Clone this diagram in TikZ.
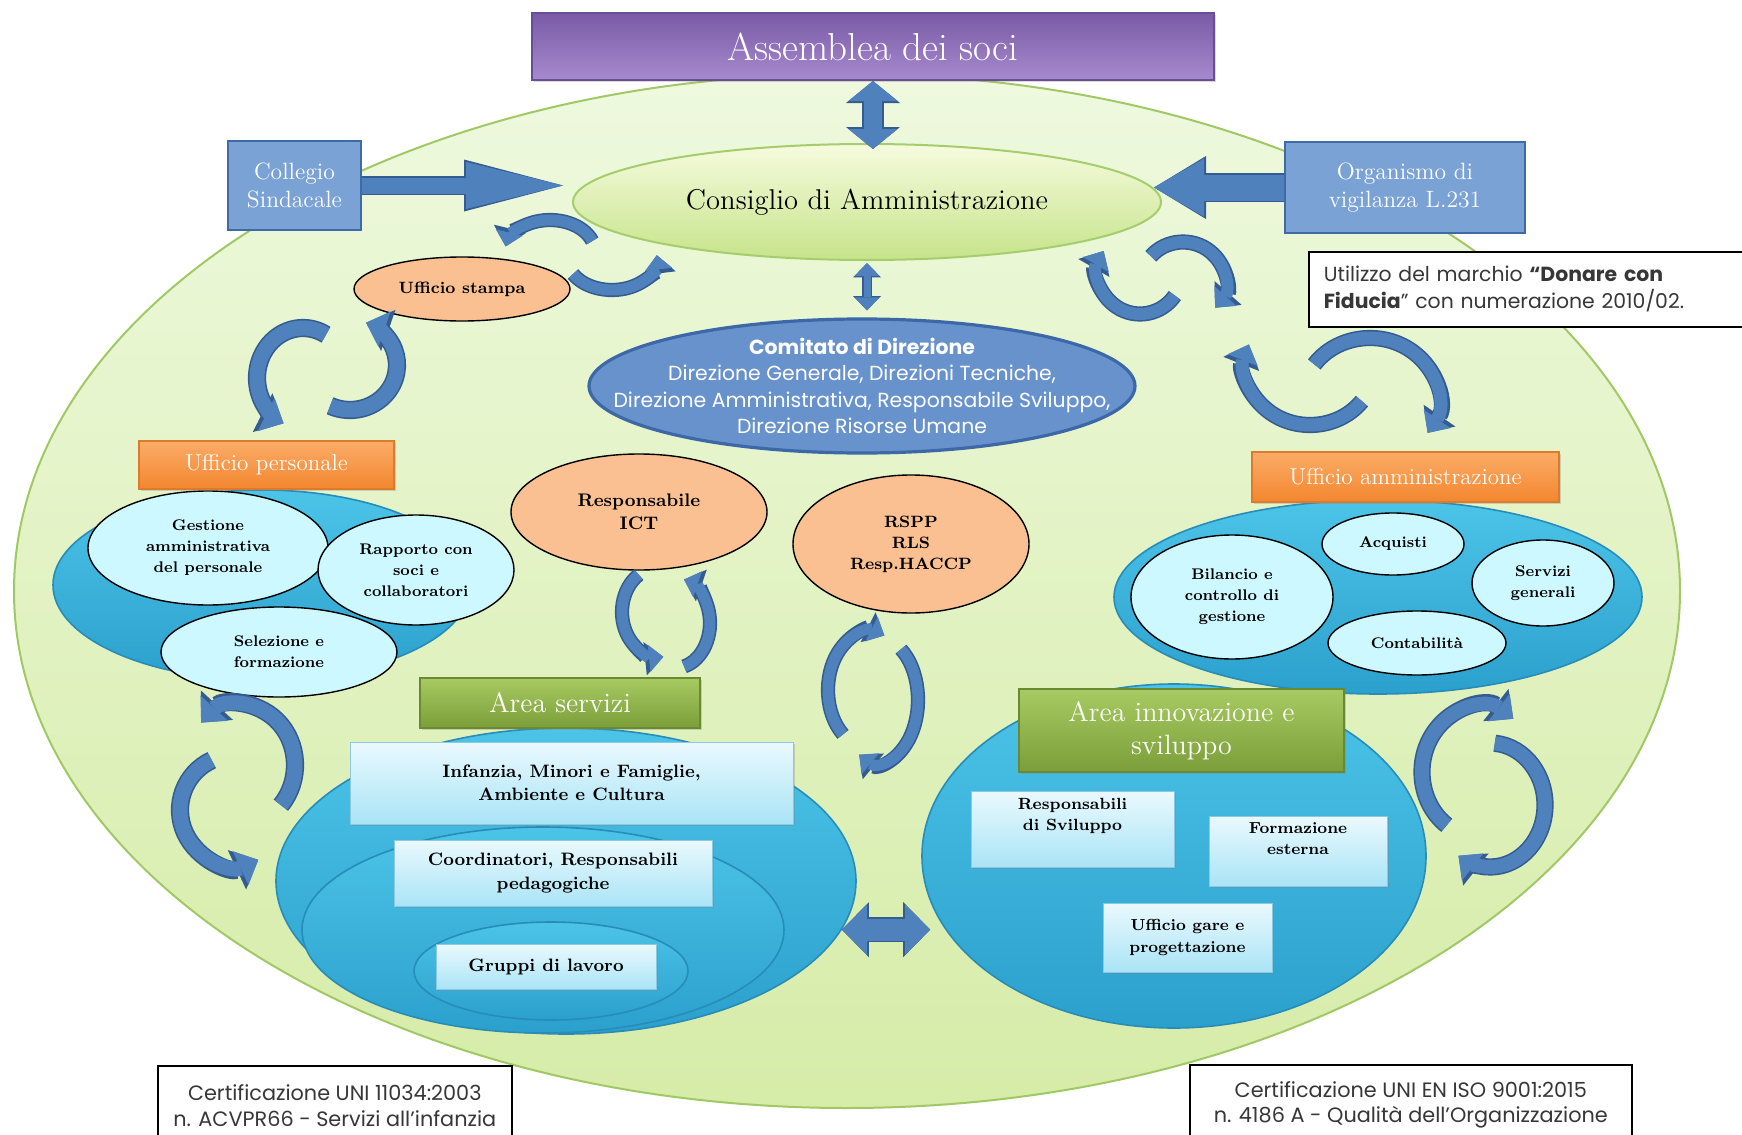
\documentclass[tikz,border=0pt]{standalone}
\usepackage{fontspec}
\newfontfamily\gothic{Poppins}
\usetikzlibrary{arrows.meta,shapes.geometric,shadows}

\definecolor{bgfill}{RGB}{238,249,222}
\definecolor{bgfill2}{RGB}{214,236,168}
\definecolor{bgline}{RGB}{160,200,100}
\definecolor{purpletop}{RGB}{122,90,166}
\definecolor{purplebot}{RGB}{166,138,206}
\definecolor{purpleline}{RGB}{105,78,150}
\definecolor{lime1}{RGB}{246,251,222}
\definecolor{lime2}{RGB}{198,228,138}
\definecolor{limeline}{RGB}{165,205,110}
\definecolor{steel}{RGB}{122,162,212}
\definecolor{steelline}{RGB}{62,106,166}
\definecolor{comfill}{RGB}{104,146,204}
\definecolor{comline}{RGB}{60,104,168}
\definecolor{peach}{RGB}{250,192,145}
\definecolor{orange1}{RGB}{251,172,104}
\definecolor{orange2}{RGB}{243,134,46}
\definecolor{orangeline}{RGB}{222,122,44}
\definecolor{sky1}{RGB}{76,196,232}
\definecolor{sky2}{RGB}{44,160,205}
\definecolor{skyline}{RGB}{40,140,185}
\definecolor{ice}{RGB}{205,248,255}
\definecolor{olive1}{RGB}{168,202,98}
\definecolor{olive2}{RGB}{124,158,58}
\definecolor{oliveline}{RGB}{105,138,50}
\definecolor{pale1}{RGB}{234,249,254}
\definecolor{pale2}{RGB}{170,228,246}
\definecolor{paleline}{RGB}{140,200,225}
\definecolor{arrowblue}{RGB}{79,129,189}
\definecolor{arrowdark}{RGB}{52,92,145}
\definecolor{inkgray}{RGB}{55,55,55}

\newcommand\ringarrow[7]{%
  \pgfmathsetlengthmacro\rlw{#7*0.5pt}%
  \pgfmathsetlengthmacro\rlwb{#7*0.5pt+1.6pt}%
  \pgfmathsetlengthmacro\rhw{#7*1.25pt}%
  \pgfmathsetlengthmacro\rhwb{#7*1.25pt+3pt}%
  \pgfmathsetlengthmacro\rhl{#7*0.65pt}%
  \pgfmathsetlengthmacro\rhlb{#7*0.65pt+2pt}%
  \draw[arrowdark, line width=\rlwb, -{Triangle[length=\rhlb, width=\rhwb, line width=0pt]}]
    (#1,#2) ++(#5:#3 and #4) arc[start angle=#5, end angle=#6, x radius=#3, y radius=#4];
  \draw[arrowblue, line width=\rlw, -{Triangle[length=\rhl, width=\rhw, line width=0pt]}]
    (#1,#2) ++(#5:#3 and #4) arc[start angle=#5, end angle=#6, x radius=#3, y radius=#4];
}

\begin{document}
\begin{tikzpicture}[x=0.5pt, y=-0.5pt,
    softshadow/.style={drop shadow={shadow xshift=1.2pt, shadow yshift=-1.2pt, opacity=0.3}},
    bigell/.style={ellipse, inner sep=0pt, top color=bgfill, bottom color=bgfill2, draw=bgline, line width=1pt},
    purplebox/.style={rectangle, inner sep=0pt, top color=purpletop, bottom color=purplebot, draw=purpleline, line width=1pt, text=white, font=\fontsize{19.5}{22}\selectfont, softshadow},
    limeell/.style={ellipse, inner sep=0pt, top color=lime1, bottom color=lime2, draw=limeline, line width=1pt, font=\fontsize{14.3}{17}\selectfont},
    steelbox/.style={rectangle, inner sep=0pt, fill=steel, draw=steelline, line width=1.4pt, text=white, align=center, font=\fontsize{11.8}{13.8}\selectfont},
    comell/.style={ellipse, inner sep=0pt, fill=comfill, draw=comline, line width=1.6pt},
    comtxt/.style={text=white, align=center, font=\gothic\fontsize{10.2}{13.3}\selectfont},
    peachell/.style={ellipse, inner sep=0pt, fill=peach, draw=black, line width=0.7pt, align=center, font=\bfseries\fontsize{8.2}{10.5}\selectfont},
    orangebox/.style={rectangle, inner sep=0pt, top color=orange1, bottom color=orange2, draw=orangeline, line width=0.8pt, text=white, font=\fontsize{11.5}{13}\selectfont, softshadow},
    skyell/.style={ellipse, inner sep=0pt, top color=sky1, bottom color=sky2, draw=skyline, line width=0.8pt},
    iceell/.style={ellipse, inner sep=0pt, fill=ice, draw=black, line width=0.7pt, align=center, font=\bfseries\fontsize{7.7}{10.5}\selectfont},
    olivebox/.style={rectangle, inner sep=0pt, top color=olive1, bottom color=olive2, draw=oliveline, line width=0.8pt, text=white, align=center, font=\fontsize{14}{16.7}\selectfont, softshadow},
    palebox/.style={rectangle, inner sep=0pt, top color=pale1, bottom color=pale2, draw=paleline, line width=0.5pt, align=center, font=\bfseries\fontsize{9}{11.7}\selectfont, softshadow},
    notebox/.style={rectangle, fill=white, draw=black, line width=0.8pt, text=inkgray, font=\gothic\fontsize{10.2}{13.4}\selectfont},
    dblarrow/.style n args={3}{line width=#1, {Triangle[length=#2, width=#3, line width=0pt]}-{Triangle[length=#2, width=#3, line width=0pt]}},
    onearrow/.style n args={3}{line width=#1, -{Triangle[length=#2, width=#3, line width=0pt]}}]

  \useasboundingbox (0,0) rectangle (1742,1135);
  \node[bigell, minimum width=833pt, minimum height=517pt] (campo) at (847,591) {};

  \node[purplebox, minimum width=341pt, minimum height=33.5pt] (assemblea) at (873,46.5) {Assemblea dei soci};
  \node[limeell, minimum width=294pt, minimum height=58pt] (consiglio) at (867,202) {Consiglio di Amministrazione};
  \node[steelbox, minimum width=66.5pt, minimum height=44.5pt] (collegio) at (294.5,185.5) {Collegio\\Sindacale};
  \node[steelbox, minimum width=120pt, minimum height=45.5pt] (organismo) at (1405,187.5) {Organismo di\\vigilanza L.231};

  \draw[arrowdark, dblarrow={10.6pt}{11pt}{27pt}, shorten >=-3pt] (assemblea.south) -- (assemblea.south |- consiglio.north);
  \draw[arrowblue, dblarrow={9pt}{10pt}{24.5pt}, shorten >=-3pt] (assemblea.south) -- (assemblea.south |- consiglio.north);
  \draw[arrowdark, onearrow={9.6pt}{49.5pt}{26pt}, shorten >=4.5pt] (collegio.east) -- (collegio.east -| consiglio.west);
  \draw[arrowblue, onearrow={8pt}{48.5pt}{23.5pt}, shorten >=4.5pt] (collegio.east) -- (collegio.east -| consiglio.west);
  \draw[arrowdark, onearrow={14.6pt}{26pt}{31.5pt}, shorten >=-4pt] (organismo.west) -- (organismo.west -| consiglio.east);
  \draw[arrowblue, onearrow={13pt}{25pt}{29pt}, shorten >=-4pt] (organismo.west) -- (organismo.west -| consiglio.east);

  \node[notebox, anchor=north west, inner xsep=7.5pt, inner ysep=0pt, text width=215pt, minimum height=37.5pt, align=left] (marchio) at (1308,251)
    {Utilizzo del marchio \textbf{“Donare con}\\\textbf{Fiducia}” con numerazione 2010/02.};

  \node[peachell, minimum width=108pt, minimum height=32pt] (stampa) at (462,289) {Ufficio stampa};

  \node[comell, minimum width=273pt, minimum height=67pt,
    label={[comtxt]center:{\textbf{Comitato di Direzione}\\Direzione Generale, Direzioni Tecniche,\\Direzione Amministrativa, Responsabile Sviluppo,\\Direzione Risorse Umane}}] (comitato) at (862,386) {};
  \draw[arrowdark, dblarrow={4.7pt}{7.2pt}{14pt}, shorten <=1pt, shorten >=3.5pt] (consiglio.south) -- (consiglio.south |- comitato.north);
  \draw[arrowblue, dblarrow={3.5pt}{6.5pt}{12pt}, shorten <=1pt, shorten >=3.5pt] (consiglio.south) -- (consiglio.south |- comitato.north);

  \node[skyell, minimum width=209pt, minimum height=95pt] (persell) at (262,585) {};
  \node[iceell, minimum width=120pt, minimum height=57pt] (gestione) at (208,548) {Gestione\\amministrativa\\del personale};
  \node[iceell, minimum width=98pt, minimum height=55pt] (rapporto) at (416,570) {Rapporto con\\soci e\\collaboratori};
  \node[iceell, minimum width=118pt, minimum height=45pt] (selezione) at (279,652) {Selezione e\\formazione};
  \node[orangebox, minimum width=127.5pt, minimum height=24pt] (personale) at (266.5,465) {Ufficio personale};

  \node[peachell, minimum width=128pt, minimum height=58pt, font=\bfseries\fontsize{9.1}{11.7}\selectfont] (ict) at (639,512) {Responsabile\\ICT};
  \node[peachell, minimum width=118pt, minimum height=69pt] (rspp) at (911,544) {RSPP\\RLS\\Resp.HACCP};

  \node[skyell, minimum width=264pt, minimum height=97pt] (ammell) at (1378,597) {};
  \node[iceell, minimum width=101pt, minimum height=62pt] (bilancio) at (1232,597) {Bilancio e\\controllo di\\gestione};
  \node[iceell, minimum width=71pt, minimum height=31pt] (acquisti) at (1393,544) {Acquisti};
  \node[iceell, minimum width=71pt, minimum height=43pt] (servgen) at (1543,583) {Servizi\\generali};
  \node[iceell, minimum width=89pt, minimum height=32pt] (contab) at (1417,643) {Contabilità};
  \node[orangebox, minimum width=153.5pt, minimum height=25pt] (amministrazione) at (1405.5,477) {Ufficio amministrazione};

  \node[skyell, minimum width=290pt, minimum height=153pt] (servell) at (566,881) {};
  \node[skyell, minimum width=241pt, minimum height=103pt] (servell2) at (543,930) {};
  \node[skyell, minimum width=137pt, minimum height=49pt] (gruppiell) at (551,971) {};
  \node[palebox, minimum width=221.5pt, minimum height=41pt] (infanzia) at (571.5,783) {Infanzia, Minori e Famiglie,\\Ambiente e Cultura};
  \node[palebox, minimum width=159pt, minimum height=33pt] (coordinatori) at (553,873) {Coordinatori, Responsabili\\pedagogiche};
  \node[palebox, minimum width=110pt, minimum height=22.5pt] (gruppi) at (546,966.5) {Gruppi di lavoro};
  \node[olivebox, minimum width=140pt, minimum height=25pt] (servizi) at (560,703) {Area servizi};

  \node[skyell, minimum width=252pt, minimum height=172pt] (innell) at (1174,856) {};
  \node[olivebox, minimum width=162.5pt, minimum height=41.5pt] (innovazione) at (1181.5,730.5) {Area innovazione e\\sviluppo};
  \node[palebox, minimum width=101.5pt, minimum height=38pt, font=\bfseries\fontsize{8.1}{10.5}\selectfont] (svilresp) at (1072.5,829) {Responsabili\\di Sviluppo\\[4pt]};
  \node[palebox, minimum width=89pt, minimum height=35pt, font=\bfseries\fontsize{8}{10.5}\selectfont] (formazione) at (1298,851) {Formazione\\esterna\\[2pt]};
  \node[palebox, minimum width=84.5pt, minimum height=34.5pt, font=\bfseries\fontsize{8}{10.5}\selectfont] (gare) at (1187.5,937.5) {Ufficio gare e\\progettazione};

  \draw[arrowdark, dblarrow={12.6pt}{13.5pt}{27.5pt}, shorten >=-4.5pt] (servell.-10) -- (servell.-10 -| innell.west);
  \draw[arrowblue, dblarrow={11pt}{12.5pt}{25pt}, shorten >=-4.5pt] (servell.-10) -- (servell.-10 -| innell.west);

  \node[notebox, anchor=north west, minimum width=177pt, minimum height=40pt, align=center, font=\gothic\fontsize{10.4}{12.8}\selectfont] (certuni) at (157,1065)
    {Certificazione UNI 11034:2003\\n. ACVPR66 - Servizi all’infanzia};
  \node[notebox, anchor=north west, minimum width=221pt, minimum height=40pt, align=center, font=\gothic\fontsize{10.4}{12.8}\selectfont] (certiso) at (1189,1064)
    {Certificazione UNI EN ISO 9001:2015\\n. 4186 A - Qualità dell’Organizzazione};

  \ringarrow{550}{252}{45}{32}{-20}{-170}{11}
  \ringarrow{612}{258}{45}{32}{150}{-5}{11}
  \ringarrow{303}{378}{46}{50}{-60}{-245}{15}
  \ringarrow{350}{365}{47}{45}{115}{-70}{15}
  \ringarrow{1140}{272}{42}{42}{34}{210}{12}
  \ringarrow{1183}{282}{42}{40}{-140}{40}{12}
  \ringarrow{1310}{365}{65}{60}{37}{200}{13}
  \ringarrow{1370}{400}{68}{62}{-145}{32}{13}
  \ringarrow{660}{612}{38}{45}{236}{85}{11}
  \ringarrow{675}{623}{35}{45}{75}{-75}{11}
  \ringarrow{870}{690}{42}{58}{130}{290}{11}
  \ringarrow{878}{700}{40}{62}{-55}{118}{11}
  \ringarrow{240}{765}{55}{60}{42}{-135}{15}
  \ringarrow{235}{810}{55}{55}{245}{65}{15}
  \ringarrow{1480}{772}{58}{65}{125}{305}{14}
  \ringarrow{1490}{805}{55}{62}{-85}{125}{14}
\end{tikzpicture}
\end{document}
